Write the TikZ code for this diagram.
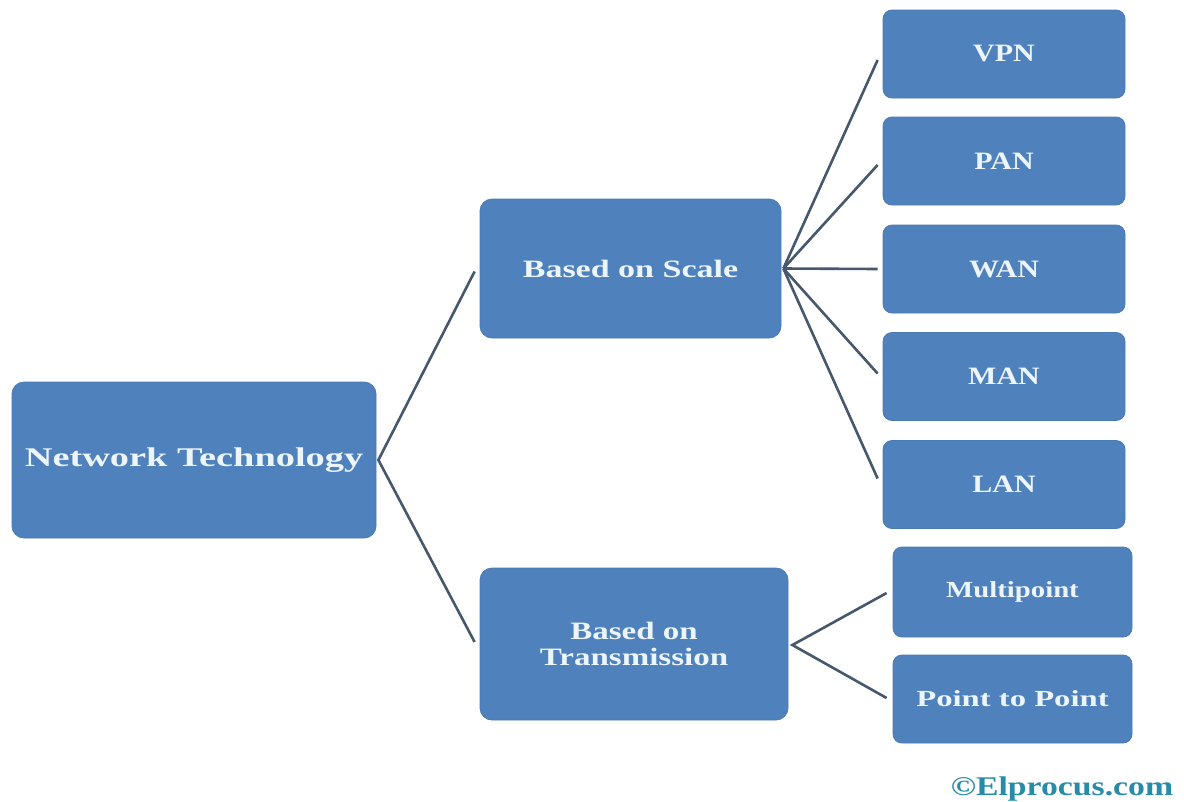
\documentclass[tikz,border=0pt]{standalone}
\usepackage{fontspec}
\setmainfont{Liberation Serif}
\usepackage{graphicx}
\usetikzlibrary{calc}
\definecolor{boxblue}{RGB}{79,129,189}
\definecolor{boxedge}{RGB}{74,122,180}
\definecolor{txt}{RGB}{236,245,250}
\definecolor{linec}{RGB}{70,88,108}
\definecolor{wmcol}{RGB}{38,140,170}
\newcommand{\hstr}[2]{\scalebox{#1}[1]{#2}}
\tikzset{
  box/.style={draw=boxedge, line width=0.8pt, fill=boxblue, rounded corners=#1, inner sep=0pt,
    text=txt, font=\bfseries\fontsize{25}{26}\selectfont, align=center},
  box/.default=12pt,
  conn/.style={draw=linec, line width=2.6pt}
}
\begin{document}
\begin{tikzpicture}[x=1pt,y=-1pt]
\useasboundingbox (0,0) rectangle (1184,801);
\fill[white] (0,0) rectangle (1184,801);
% main nodes
\node[box, minimum width=364pt, minimum height=156pt, font=\bfseries\fontsize{27}{28}\selectfont] (root) at (194,460) {\hstr{1.42}{Network Technology}};
\node[box, minimum width=301pt, minimum height=139pt] (scale) at (630.5,268.5) {\hstr{1.36}{Based on Scale}};
\node[box, minimum width=308pt, minimum height=152pt] (trans) at (634,644) {\hstr{1.32}{Based on}\\\hstr{1.32}{Transmission}};
% scale children
\node[box=9pt, minimum width=242pt, minimum height=88pt] (vpn) at (1004,54) {\hstr{1.2}{VPN}};
\node[box=9pt, minimum width=242pt, minimum height=88pt] (pan) at (1004,161) {\hstr{1.2}{PAN}};
\node[box=9pt, minimum width=242pt, minimum height=88pt] (wan) at (1004,269) {\hstr{1.2}{WAN}};
\node[box=9pt, minimum width=242pt, minimum height=88pt] (man) at (1004,376.5) {\hstr{1.2}{MAN}};
\node[box=9pt, minimum width=242pt, minimum height=88pt] (lan) at (1004,484.5) {\hstr{1.2}{LAN}};
% transmission children
\node[box=9pt, minimum width=239pt, minimum height=90pt, font=\bfseries\fontsize{23}{24}\selectfont] (multi) at (1012.5,592) {\hstr{1.25}{Multipoint}};
\node[box=9pt, minimum width=239pt, minimum height=88pt, font=\bfseries\fontsize{23}{24}\selectfont] (ptp) at (1012.5,699) {\hstr{1.42}{Point to Point}};
% junction points
\coordinate (jr) at ($(root.east)+(2,0)$);
\coordinate (js) at ($(scale.east)+(2,0)$);
\coordinate (jt) at ($(trans.east)+(4,1)$);
% connectors
\draw[conn] ($(scale.west)+(-5,3)$) -- (jr) -- ($(trans.west)+(-5,-2)$);
\draw[conn] ($(vpn.west)+(-5,6)$) -- (js);
\draw[conn] ($(pan.west)+(-5,4)$) -- (js);
\draw[conn] ($(wan.west)+(-5,0)$) -- (js);
\draw[conn] ($(man.west)+(-5,-3)$) -- (js);
\draw[conn] ($(lan.west)+(-5,-6)$) -- (js);
\draw[conn] ($(multi.west)+(-6,1)$) -- (jt) -- ($(ptp.west)+(-6,-1)$);
% watermark
\node[text=wmcol, font=\bfseries\fontsize{27}{28}\selectfont, inner sep=0pt] (wm) at (1062,789) {\hstr{1.25}{\textcopyright Elprocus.com}};
\end{tikzpicture}
\end{document}
